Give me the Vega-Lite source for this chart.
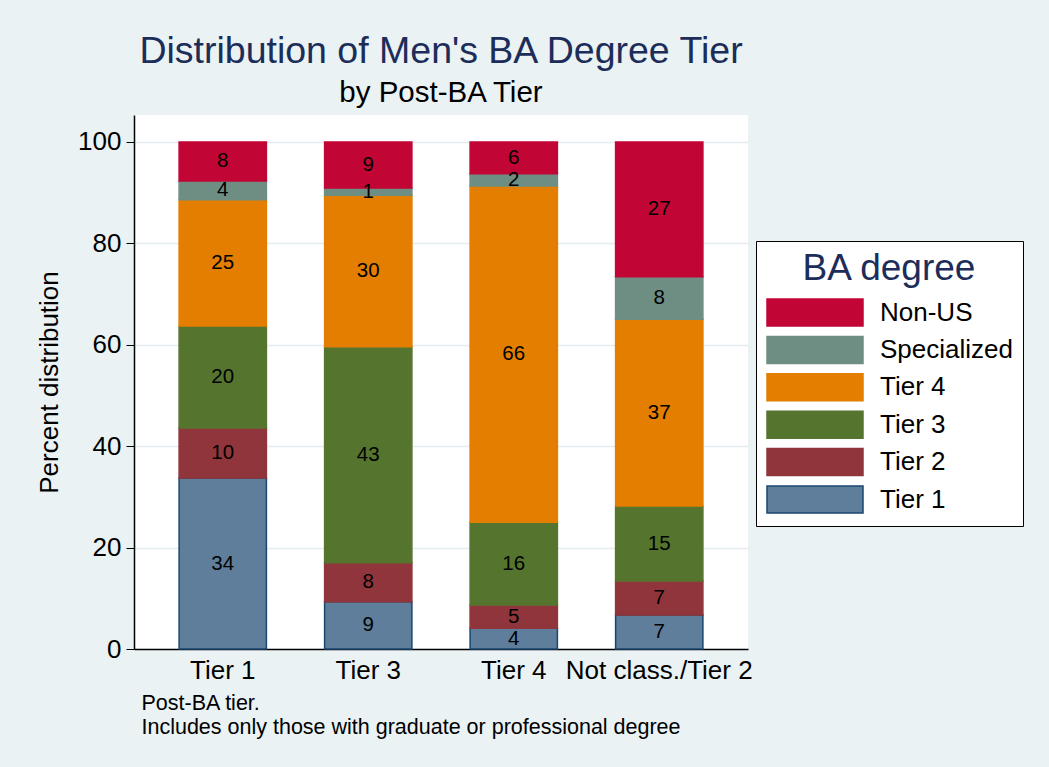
{
  "$schema": "https://vega.github.io/schema/vega-lite/v6.json",
  "width": 614,
  "height": 534,
  "autosize": {"type": "none"},
  "padding": {"left": 134, "top": 115, "right": 301, "bottom": 118},
  "background": "#eaf2f3",
  "title": {
    "text": "Distribution of Men's BA Degree Tier",
    "subtitle": "by Post-BA Tier",
    "frame": "group",
    "anchor": "middle",
    "font": "Liberation Sans",
    "fontSize": 37.5,
    "fontWeight": "normal",
    "color": "#1c2d5a",
    "subtitleFont": "Liberation Sans",
    "subtitleFontSize": 29.5,
    "subtitleColor": "#000000",
    "subtitlePadding": 8,
    "offset": 8
  },
  "data": {
    "values": [
      {"post": "Tier 1", "deg": "Tier 1", "order": 1, "pct": 33.7},
      {"post": "Tier 1", "deg": "Tier 2", "order": 2, "pct": 9.9},
      {"post": "Tier 1", "deg": "Tier 3", "order": 3, "pct": 20.1},
      {"post": "Tier 1", "deg": "Tier 4", "order": 4, "pct": 24.9},
      {"post": "Tier 1", "deg": "Specialized", "order": 5, "pct": 3.7},
      {"post": "Tier 1", "deg": "Non-US", "order": 6, "pct": 7.7},
      {"post": "Tier 3", "deg": "Tier 1", "order": 1, "pct": 9.3},
      {"post": "Tier 3", "deg": "Tier 2", "order": 2, "pct": 7.7},
      {"post": "Tier 3", "deg": "Tier 3", "order": 3, "pct": 42.6},
      {"post": "Tier 3", "deg": "Tier 4", "order": 4, "pct": 29.9},
      {"post": "Tier 3", "deg": "Specialized", "order": 5, "pct": 1.4},
      {"post": "Tier 3", "deg": "Non-US", "order": 6, "pct": 9.1},
      {"post": "Tier 4", "deg": "Tier 1", "order": 1, "pct": 4.1},
      {"post": "Tier 4", "deg": "Tier 2", "order": 2, "pct": 4.6},
      {"post": "Tier 4", "deg": "Tier 3", "order": 3, "pct": 16.3},
      {"post": "Tier 4", "deg": "Tier 4", "order": 4, "pct": 66.3},
      {"post": "Tier 4", "deg": "Specialized", "order": 5, "pct": 2.4},
      {"post": "Tier 4", "deg": "Non-US", "order": 6, "pct": 6.3},
      {"post": "Not class./Tier 2", "deg": "Tier 1", "order": 1, "pct": 6.7},
      {"post": "Not class./Tier 2", "deg": "Tier 2", "order": 2, "pct": 6.7},
      {"post": "Not class./Tier 2", "deg": "Tier 3", "order": 3, "pct": 14.8},
      {"post": "Not class./Tier 2", "deg": "Tier 4", "order": 4, "pct": 36.8},
      {"post": "Not class./Tier 2", "deg": "Specialized", "order": 5, "pct": 8.4},
      {"post": "Not class./Tier 2", "deg": "Non-US", "order": 6, "pct": 26.6}
    ]
  },
  "transform": [
    {"stack": "pct", "groupby": ["post"], "sort": [{"field": "order", "order": "ascending"}], "as": ["y0", "y1"]}
  ],
  "encoding": {
    "x": {
      "field": "post",
      "type": "nominal",
      "sort": ["Tier 1", "Tier 3", "Tier 4", "Not class./Tier 2"],
      "scale": {"paddingInner": 0.4, "paddingOuter": 0.31},
      "axis": {
        "title": ["Post-BA tier.", "Includes only those with graduate or professional degree"],
        "titleAnchor": "start",
        "titleAlign": "left",
        "titleX": 7,
        "titleBaseline": "top",
        "titlePadding": 9,
        "titleFontSize": 21.5,
        "titleFontWeight": "normal",
        "titleLineHeight": 24,
        "titleColor": "#000000",
        "labelAngle": 0,
        "labelFontSize": 26,
        "labelLimit": 400,
        "labelColor": "#000000",
        "labelPadding": 8,
        "ticks": false,
        "domainColor": "#000000",
        "domainWidth": 1.5,
        "grid": false
      }
    }
  },
  "layer": [
    {
      "mark": {"type": "bar", "strokeWidth": 1.5},
      "encoding": {
        "y": {
          "field": "y0",
          "type": "quantitative",
          "scale": {"domain": [0, 105.3], "nice": false, "zero": true},
          "axis": {
            "title": "Percent distribution",
            "values": [0, 20, 40, 60, 80, 100],
            "titleFontSize": 26,
            "titleFontWeight": "normal",
            "titleColor": "#000000",
            "titlePadding": 15,
            "labelFontSize": 26,
            "labelColor": "#000000",
            "labelPadding": 5,
            "tickSize": 8,
            "tickColor": "#000000",
            "domainColor": "#000000",
            "domainWidth": 1.5,
            "gridColor": "#e4ecef",
            "gridWidth": 1.5
          }
        },
        "y2": {"field": "y1"},
        "fill": {
          "field": "deg",
          "type": "nominal",
          "scale": {
            "domain": ["Non-US", "Specialized", "Tier 4", "Tier 3", "Tier 2", "Tier 1"],
            "range": ["#c10534", "#6e8e84", "#e37e00", "#55752f", "#90353b", "#5e7e9b"]
          },
          "legend": {
            "title": "BA degree",
            "orient": "none",
            "legendX": 622,
            "legendY": 126,
            "padding": 10,
            "fillColor": "#ffffff",
            "strokeColor": "#000000",
            "titleFontSize": 37,
            "titleFontWeight": "normal",
            "titleColor": "#1c2d5a",
            "titleAnchor": "middle",
            "titlePadding": 10,
            "labelFontSize": 26,
            "labelLimit": 300,
            "labelColor": "#000000",
            "labelOffset": 85,
            "rowPadding": 4.4,
            "symbolType": "M-1,-1L6.111,-1L6.111,1L-1,1Z",
            "symbolSize": 729,
            "symbolStrokeWidth": 1.5,
            "symbolOpacity": 1
          }
        },
        "stroke": {
          "field": "deg",
          "type": "nominal",
          "scale": {
            "domain": ["Non-US", "Specialized", "Tier 4", "Tier 3", "Tier 2", "Tier 1"],
            "range": ["#c10534", "#6e8e84", "#e37e00", "#55752f", "#90353b", "#1a476f"]
          },
          "legend": {
            "title": "BA degree",
            "orient": "none",
            "legendX": 622,
            "legendY": 126
          }
        }
      }
    },
    {
      "transform": [{"fold": ["y0", "y1"], "as": ["edge", "pos"]}],
      "mark": {"type": "text", "fontSize": 20.5, "color": "#000000", "baseline": "middle", "align": "center"},
      "encoding": {
        "y": {
          "aggregate": "mean",
          "field": "pos",
          "type": "quantitative",
          "scale": {"domain": [0, 105.3], "nice": false},
          "axis": {"title": "Percent distribution"}
        },
        "detail": {"field": "deg", "type": "nominal"},
        "text": {"aggregate": "max", "field": "pct", "type": "quantitative", "format": ".0f"}
      }
    }
  ],
  "config": {
    "font": "Liberation Sans",
    "view": {"fill": "#ffffff", "stroke": null}
  }
}
